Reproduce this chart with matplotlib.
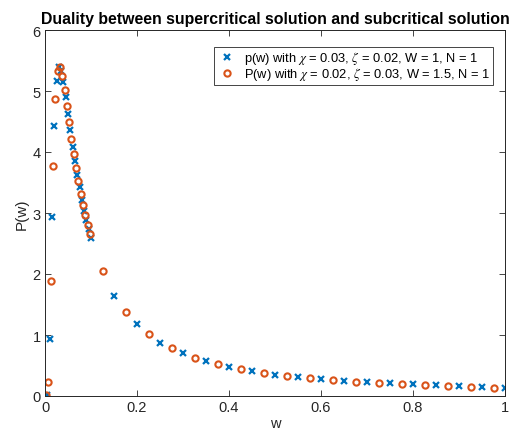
import numpy as np
import matplotlib.pyplot as plt

plt.rcParams['font.family'] = ['Liberation Sans', 'DejaVu Sans']
plt.rcParams['mathtext.fontset'] = 'stix'

# p(w), chi = 0.03, zeta = 0.02, W = 1, N = 1
w_sup = [0, 0.005, 0.01, 0.015, 0.02, 0.025, 0.03, 0.035, 0.04, 0.045, 0.05,
         0.055, 0.06, 0.065, 0.07, 0.075, 0.08, 0.085, 0.09, 0.095, 0.1,
         0.15, 0.2, 0.25, 0.3, 0.35, 0.4, 0.45, 0.5, 0.55, 0.6, 0.65, 0.7,
         0.75, 0.8, 0.85, 0.9, 0.95, 1.0]
p_sup = [0, 0.02, 0.93, 2.94, 4.43, 5.16, 5.40, 5.33, 5.14, 4.90, 4.62,
         4.36, 4.09, 3.85, 3.62, 3.42, 3.22, 3.04, 2.88, 2.74, 2.59,
         1.64, 1.175, 0.874, 0.70, 0.58, 0.475, 0.405, 0.35, 0.306, 0.279,
         0.246, 0.224, 0.208, 0.19, 0.175, 0.159, 0.145, 0.136]

# P(w), chi = 0.02, zeta = 0.03, W = 1.5, N = 1
w_sub = [0.0025, 0.0075, 0.0125, 0.0175, 0.0225, 0.0275, 0.0325, 0.0375,
         0.0425, 0.0475, 0.0525, 0.0575, 0.0625, 0.0675, 0.0725, 0.0775,
         0.0825, 0.0875, 0.0925, 0.0975,
         0.125, 0.175, 0.225, 0.275, 0.325, 0.375, 0.425, 0.475, 0.525,
         0.575, 0.625, 0.675, 0.725, 0.775, 0.825, 0.875, 0.925, 0.975]
p_sub = [0.01, 0.23, 1.89, 3.77, 4.87, 5.32, 5.40, 5.25,
         5.02, 4.76, 4.50, 4.22, 3.97, 3.73, 3.52, 3.31,
         3.13, 2.96, 2.80, 2.66,
         2.05, 1.38, 1.01, 0.787, 0.628, 0.525, 0.44, 0.38, 0.333,
         0.289, 0.262, 0.23, 0.208, 0.19, 0.175, 0.159, 0.15, 0.136]

dark = '#262626'

fig = plt.figure(figsize=(5.27, 4.35), dpi=100)
ax = fig.add_axes([45/527, 38/435, 460/527, 366/435])

ax.plot(w_sup, p_sup, 'x', color='#0072BD', markersize=4, markeredgewidth=1.6,
        label=r'p(w) with $\chi$ = 0.03, $\zeta$ = 0.02, W = 1, N = 1')
ax.plot(w_sub, p_sub, 'o', color='#D95319', markerfacecolor='none',
        markersize=4.5, markeredgewidth=1.5,
        label=r'P(w) with $\chi$ = 0.02, $\zeta$ = 0.03, W = 1.5, N = 1')

ax.set_xlim(0, 1)
ax.set_ylim(0, 6)
ax.set_xticks([0, 0.2, 0.4, 0.6, 0.8, 1])
ax.set_xticklabels(['0', '0.2', '0.4', '0.6', '0.8', '1'])
ax.set_yticks(range(7))
ax.tick_params(direction='in', top=True, right=True, length=4, width=0.6,
               colors=dark, labelsize=10.5, pad=3)
for s in ax.spines.values():
    s.set_color(dark)
    s.set_linewidth(0.7)

ax.set_title('Duality between supercritical solution and subcritical solution',
             fontsize=11.4, fontweight='bold', pad=5)
ax.set_xlabel('w', fontsize=10.5, color=dark, labelpad=1)
ax.set_ylabel('P(w)', fontsize=11, color=dark, labelpad=3)

leg = ax.legend(loc='upper right', bbox_to_anchor=(0.974, 0.954), fontsize=9.3,
                fancybox=False, edgecolor=dark, framealpha=1,
                borderpad=0.2, handletextpad=0.55, labelspacing=-0.1,
                handlelength=1.6, borderaxespad=0)
leg.get_frame().set_linewidth(0.6)

fig.savefig('out.png', dpi=100)
